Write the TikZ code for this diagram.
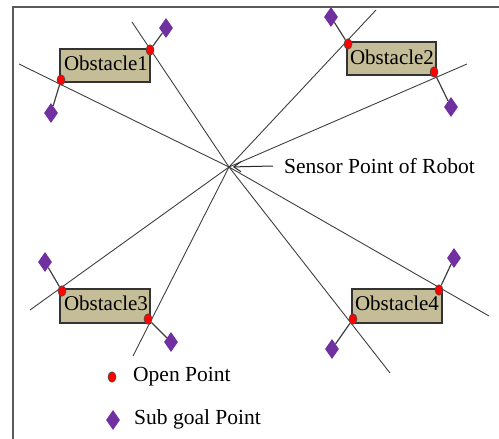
\documentclass[tikz,border=0pt]{standalone}
\usepackage{fontspec}
\newfontfamily\figserif{Liberation Serif}
\usetikzlibrary{shapes.geometric,arrows.meta}
\definecolor{tanfill}{HTML}{C4BD97}
\definecolor{raygray}{HTML}{3F3F3F}
\definecolor{purp}{HTML}{7030A0}
\definecolor{framegray}{HTML}{5A5A5A}
\tikzset{
  ray/.style={draw=raygray, line width=0.9pt},
  obst/.style={draw=black!80, line width=1.2pt, fill=tanfill},
  obstlabel/.style={font=\figserif\fontsize{21}{24}\selectfont, inner sep=0pt, text=black},
  openpt/.style={ellipse, fill=red, draw=black!70, line width=0.6pt, minimum width=8pt, minimum height=10.5pt, inner sep=0pt},
  subgoal/.style={diamond, fill=purp, draw=none, minimum width=14pt, minimum height=20pt, inner sep=0pt},
  link/.style={draw=raygray, line width=1.2pt},
  lbl/.style={font=\figserif\fontsize{21.5}{24}\selectfont, inner sep=0pt, anchor=west, text=black}
}
\begin{document}
\begin{tikzpicture}[x=1pt,y=-1pt]
\useasboundingbox (0,0) rectangle (499,439);
% frame (only top and left edges visible)
\draw[framegray, line width=2pt] (499,7) -- (13,7) -- (13,439);
% sensor point and ray ends
\coordinate (c) at (229,167);
\coordinate (e1) at (19,64);
\coordinate (e2) at (132,22);
\coordinate (e3) at (376,10);
\coordinate (e4) at (467,64);
\coordinate (e5) at (30,310);
\coordinate (e6) at (133,356);
\coordinate (e7) at (489,316);
\coordinate (e8) at (390,373);
\foreach \e in {e1,e2,e3,e4,e5,e6,e7,e8} \draw[ray] (c) -- (\e);
% obstacles
\path[obst] (60,49) rectangle (150,82);
\path[obst] (347,42) rectangle (436,75);
\path[obst] (60,289) rectangle (150,323);
\path[obst] (352,289) rectangle (442,323);
\node[obstlabel] (ob1) at (106,63) {Obstacle1};
\node[obstlabel] (ob2) at (392,57) {Obstacle2};
\node[obstlabel] (ob3) at (106,303) {Obstacle3};
\node[obstlabel] (ob4) at (397,303) {Obstacle4};
% sub goal points
\node[subgoal] (d1a) at (51,113) {};
\node[subgoal] (d1b) at (166,28) {};
\node[subgoal] (d2a) at (331,17) {};
\node[subgoal] (d2b) at (451,107) {};
\node[subgoal] (d3a) at (45,262) {};
\node[subgoal] (d3b) at (171,342) {};
\node[subgoal] (d4a) at (454,258) {};
\node[subgoal] (d4b) at (332,349) {};
% open points
\node[openpt] (o1a) at (61,80) {};
\node[openpt] (o1b) at (150,50) {};
\node[openpt] (o2a) at (348,44) {};
\node[openpt] (o2b) at (434,72) {};
\node[openpt] (o3a) at (62,291) {};
\node[openpt] (o3b) at (148,319) {};
\node[openpt] (o4a) at (439,290) {};
\node[openpt] (o4b) at (353,319) {};
% links open point -> sub goal
\draw[link] (o1a) -- (d1a);
\draw[link] (o1b) -- (d1b);
\draw[link] (o2a) -- (d2a);
\draw[link] (o2b) -- (d2b);
\draw[link] (o3a) -- (d3a);
\draw[link] (o3b) -- (d3b);
\draw[link] (o4a) -- (d4a);
\draw[link] (o4b) -- (d4b);
% sensor label
\node[lbl] (sensor) at (284,166) {Sensor Point of Robot};
\coordinate (sa) at (273,166);
\draw[draw=black!85, line width=1pt, shorten >=4pt, -{Straight Barb[length=7pt,width=10pt,line width=1pt]}] (sa) -- (c);
% legend
\node[openpt] (lo) at (112,377) {};
\node[lbl] (lot) at (133,377) {Open Point};
\node[subgoal] (ls) at (113,420) {};
\node[lbl] (lst) at (134,419) {Sub goal Point};
\end{tikzpicture}
\end{document}
